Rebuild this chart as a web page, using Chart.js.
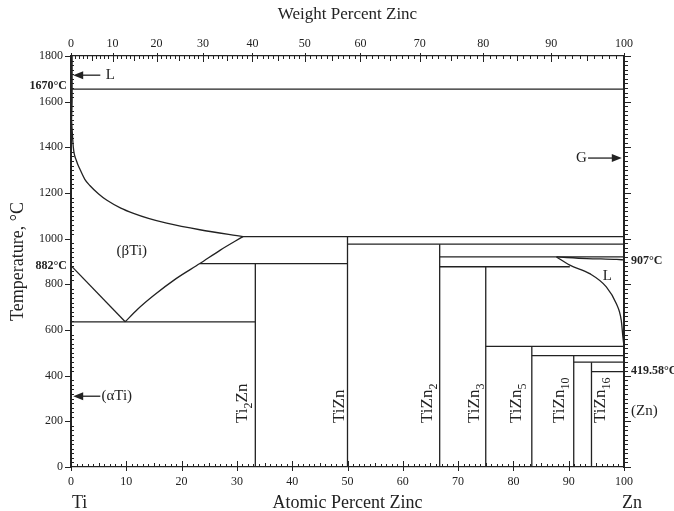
<!DOCTYPE html>
<html>
<head>
<meta charset="utf-8">
<script src="https://cdn.jsdelivr.net/npm/chart.js@4.4.0/dist/chart.umd.min.js"></script>
<style>
  html, body { margin: 0; padding: 0; background: #fff; }
  canvas { display: block; }
</style>
</head>
<body>
<canvas id="grap1" width="674" height="511"></canvas>
<script>
// Ti-Zn phase diagram, x = atomic percent Zn, y = temperature in C

// weight percent labels for the top axis
var weightTicks = [0, 10, 20, 30, 40, 50, 60, 70, 80, 90, 100];

// intermetallic compounds
var compounds = ['Ti2Zn', 'TiZn', 'TiZn2', 'TiZn3', 'TiZn5', 'TiZn10', 'TiZn16'];
var compoundX = [33.33, 50, 66.67, 75, 83.33, 90.91, 94.12];
var compoundTop = [891, 1009, 976, 877, 528, 488, 459];

// horizontal reaction lines
var isoT = [1655, 1009, 976, 920, 891, 877, 636, 528, 488, 459, 418];
var isoFrom = [0, 31.1, 50, 66.67, 23.3, 66.67, 0, 75, 83.33, 90.91, 94.12];
var isoTo = [100, 100, 100, 100, 50, 90.2, 33.33, 100, 100, 100, 100];

// (bTi) liquidus / solvus
var tiEdgeX = [0.2, 0.2, 0.1];
var tiEdgeT = [1800, 1600, 1520];
var betaUpperX = [0.1, 0.42, 1, 1.6, 2.5, 3.4, 5, 6.5, 9, 11.3, 14, 17.3, 23.3, 31.1];
var betaUpperT = [1520, 1400, 1340, 1305, 1260, 1233, 1196, 1168, 1134, 1111, 1089, 1068, 1039, 1009];
var betaLowerX = [9.8, 12, 15, 19, 23.3, 27, 31.1];
var betaLowerT = [636, 690, 752, 825, 891, 950, 1009];
var alphaX = [0, 9.8];
var alphaT = [882, 636];

// Zn rich liquid
var znLiqX = [87.8, 90.2, 93.8, 96.8, 98.6, 99.5, 99.8, 100];
var znLiqT = [920, 884, 847, 789, 716, 643, 570, 528];
var znGasX = [87.8, 93.3, 98.7, 100];
var znGasT = [920, 913, 909, 907];

var serif = '"Liberation Serif", "Times New Roman", serif';
var ink = '#222222';

function wtToAt(w) {
    var a = w / 65.38, b = (100 - w) / 47.87;
    return 100 * a / (a + b);
}
function atToWt(x) {
    var a = x * 65.38, b = (100 - x) * 47.87;
    return 100 * a / (a + b);
}

function pts(xs, ts) {
    return xs.map(function (x, i) { return { x: x, y: ts[i] }; });
}
function line(data, smooth) {
    return {
        data: data,
        showLine: true,
        pointRadius: 0,
        borderColor: ink,
        borderWidth: 1.3,
        cubicInterpolationMode: smooth ? 'monotone' : 'default',
        tension: 0,
        clip: 3
    };
}

var datasets = [];
isoT.forEach(function (t, i) {
    datasets.push(line([{ x: isoFrom[i], y: t }, { x: isoTo[i], y: t }]));
});
compoundX.forEach(function (x, i) {
    datasets.push(line([{ x: x, y: compoundTop[i] }, { x: x, y: 0 }]));
});
datasets.push(line(pts(tiEdgeX, tiEdgeT)));
datasets.push(line(pts(betaUpperX, betaUpperT), true));
datasets.push(line(pts(betaLowerX, betaLowerT), true));
datasets.push(line(pts(alphaX, alphaT)));
datasets.push(line(pts(znLiqX, znLiqT), true));
datasets.push(line(pts(znGasX, znGasT), true));

// tick marks, drawn from the scales
var tickMarks = {
    id: 'tickMarks',
    afterDraw: function (chart) {
        var ctx = chart.ctx, a = chart.chartArea;
        var xs = chart.scales.x, ys = chart.scales.y;
        ctx.save();
        ctx.strokeStyle = ink;
        ctx.lineWidth = 1;
        ctx.beginPath();
        for (var i = 0; i <= 100; i++) {
            var px = Math.round(xs.getPixelForValue(i)) + 0.5;
            if (i % 10 === 0) { ctx.moveTo(px, a.bottom + 4); ctx.lineTo(px, a.bottom - 6); }
            else { ctx.moveTo(px, a.bottom); ctx.lineTo(px, a.bottom - (i % 5 === 0 ? 4 : 3)); }
            var pw = Math.round(xs.getPixelForValue(wtToAt(i))) + 0.5;
            if (i % 10 === 0) { ctx.moveTo(pw, a.top - 3); ctx.lineTo(pw, a.top + 6); }
            else { ctx.moveTo(pw, a.top); ctx.lineTo(pw, a.top + (i % 5 === 0 ? 5 : 3)); }
        }
        for (var t = 0; t <= 1800; t += 20) {
            var py = Math.round(ys.getPixelForValue(t)) + 0.5;
            if (t % 200 === 0) {
                ctx.moveTo(a.left - 6, py); ctx.lineTo(a.left, py);
                ctx.moveTo(a.right, py); ctx.lineTo(a.right + 7, py);
            } else {
                ctx.moveTo(a.left, py); ctx.lineTo(a.left + 3, py);
                ctx.moveTo(a.right, py); ctx.lineTo(a.right + 4, py);
            }
        }
        ctx.stroke();
        ctx.lineWidth = 2;
        ctx.beginPath();
        ctx.moveTo(a.left, a.top); ctx.lineTo(a.left, a.bottom);
        ctx.moveTo(a.right, a.top); ctx.lineTo(a.right, a.bottom);
        ctx.stroke();
        ctx.restore();
    }
};

function arrow(ctx, x1, y, x2) {
    var d = x2 > x1 ? 1 : -1;
    ctx.beginPath();
    ctx.moveTo(x1, y); ctx.lineTo(x2 - d * 8, y);
    ctx.stroke();
    ctx.beginPath();
    ctx.moveTo(x2, y); ctx.lineTo(x2 - d * 10, y - 4); ctx.lineTo(x2 - d * 10, y + 4);
    ctx.closePath();
    ctx.fill();
}

function rotLabel(ctx, x, y, name) {
    var parts = name.split(/(\d+)/).filter(function (s) { return s; });
    ctx.save();
    ctx.translate(x, y);
    ctx.rotate(-Math.PI / 2);
    ctx.textAlign = 'left';
    ctx.textBaseline = 'middle';
    var cx = 0;
    parts.forEach(function (p) {
        var sub = /\d/.test(p);
        ctx.font = (sub ? '12px ' : '17px ') + serif;
        ctx.fillText(p, cx, sub ? 6 : 0);
        cx += ctx.measureText(p).width;
    });
    ctx.restore();
}

// phase names and notes
var notes = {
    id: 'notes',
    afterDraw: function (chart) {
        var ctx = chart.ctx;
        var xs = chart.scales.x, ys = chart.scales.y;
        var X = function (v) { return xs.getPixelForValue(v); };
        var Y = function (v) { return ys.getPixelForValue(v); };
        ctx.save();
        ctx.fillStyle = ink;
        ctx.strokeStyle = ink;
        ctx.lineWidth = 1.3;
        ctx.textBaseline = 'middle';

        ctx.font = '15px ' + serif;
        ctx.textAlign = 'left';
        arrow(ctx, X(5.3), Y(1716), X(0.4));
        ctx.fillText('L', X(6.3), Y(1716));
        arrow(ctx, X(5.3), Y(310), X(0.4));
        ctx.fillText('(\u03b1Ti)', X(5.5), Y(310));
        arrow(ctx, X(93.5), Y(1353), X(99.6));
        ctx.textAlign = 'right';
        ctx.fillText('G', X(93.3), Y(1353));
        ctx.textAlign = 'center';
        ctx.fillText('(\u03b2Ti)', X(11), Y(947));
        ctx.fillText('L', X(97), Y(838));
        ctx.textAlign = 'left';
        ctx.fillText('(Zn)', X(100) + 7, Y(243));

        ctx.font = 'bold 12px ' + serif;
        ctx.textAlign = 'right';
        ctx.fillText('1670\u00b0C', X(0) - 4, Y(1670));
        ctx.fillText('882\u00b0C', X(0) - 4, Y(880));
        ctx.textAlign = 'left';
        ctx.fillText('907\u00b0C', X(100) + 7, Y(902));
        ctx.fillText('419.58\u00b0C', X(100) + 7, Y(420));

        var labelAt = [31.0, 48.6, 64.5, 73.0, 80.6, 88.4, 95.8];
        compounds.forEach(function (c, i) {
            rotLabel(ctx, X(labelAt[i]), Y(193), c);
        });

        ctx.font = '18px ' + serif;
        ctx.textAlign = 'left';
        ctx.fillText('Ti', X(0) + 1, 503);
        ctx.fillText('Zn', X(100) - 2, 503);
        ctx.restore();
    }
};

var ctx = document.getElementById('grap1').getContext('2d');
var chart = new Chart(ctx, {
    type: 'scatter',
    data: { datasets: datasets },
    options: {
        responsive: false,
        animation: false,
        plugins: { legend: { display: false }, tooltip: { enabled: false } },
        layout: { padding: 0 },
        scales: {
            x: {
                type: 'linear', position: 'bottom', min: 0, max: 100,
                afterFit: function (s) { s.height = 44; },
                grid: { display: false, drawTicks: false },
                border: { color: ink, width: 1.3 },
                ticks: { stepSize: 10, padding: 8, color: ink, font: { family: serif, size: 12 } },
                title: { display: true, text: 'Atomic Percent Zinc', color: ink, padding: 0,
                    font: { family: serif, size: 18, lineHeight: 0.9 } }
            },
            x2: {
                type: 'linear', position: 'top', min: 0, max: 100,
                afterFit: function (s) { s.height = 56; },
                afterBuildTicks: function (s) {
                    s.ticks = weightTicks.map(function (w) { return { value: wtToAt(w) }; });
                },
                grid: { display: false, drawTicks: false },
                border: { color: ink, width: 1.3 },
                ticks: {
                    padding: 5, color: ink, autoSkip: false, maxRotation: 0,
                    font: { family: serif, size: 12 },
                    callback: function (v) { return Math.round(atToWt(v)); }
                },
                title: { display: true, text: 'Weight Percent Zinc', color: ink,
                    padding: { top: 6, bottom: 0 },
                    font: { family: serif, size: 17, lineHeight: 1 } }
            },
            y: {
                type: 'linear', position: 'left', min: 0, max: 1800,
                afterFit: function (s) { s.width = 71; },
                grid: { display: false, drawTicks: false },
                border: { color: ink, width: 2 },
                ticks: { stepSize: 200, padding: 8, color: ink, font: { family: serif, size: 12 },
                    callback: function (v) { return String(v); } },
                title: { display: true, text: 'Temperature, \u00b0C', color: ink,
                    padding: { top: 9, bottom: 0 },
                    font: { family: serif, size: 18, lineHeight: 1 } }
            },
            y2: {
                type: 'linear', position: 'right', min: 0, max: 1800,
                afterFit: function (s) { s.width = 50; },
                grid: { display: false, drawTicks: false },
                border: { color: ink, width: 2 },
                ticks: { display: false }
            }
        }
    },
    plugins: [tickMarks, notes]
});
</script>
</body>
</html>
